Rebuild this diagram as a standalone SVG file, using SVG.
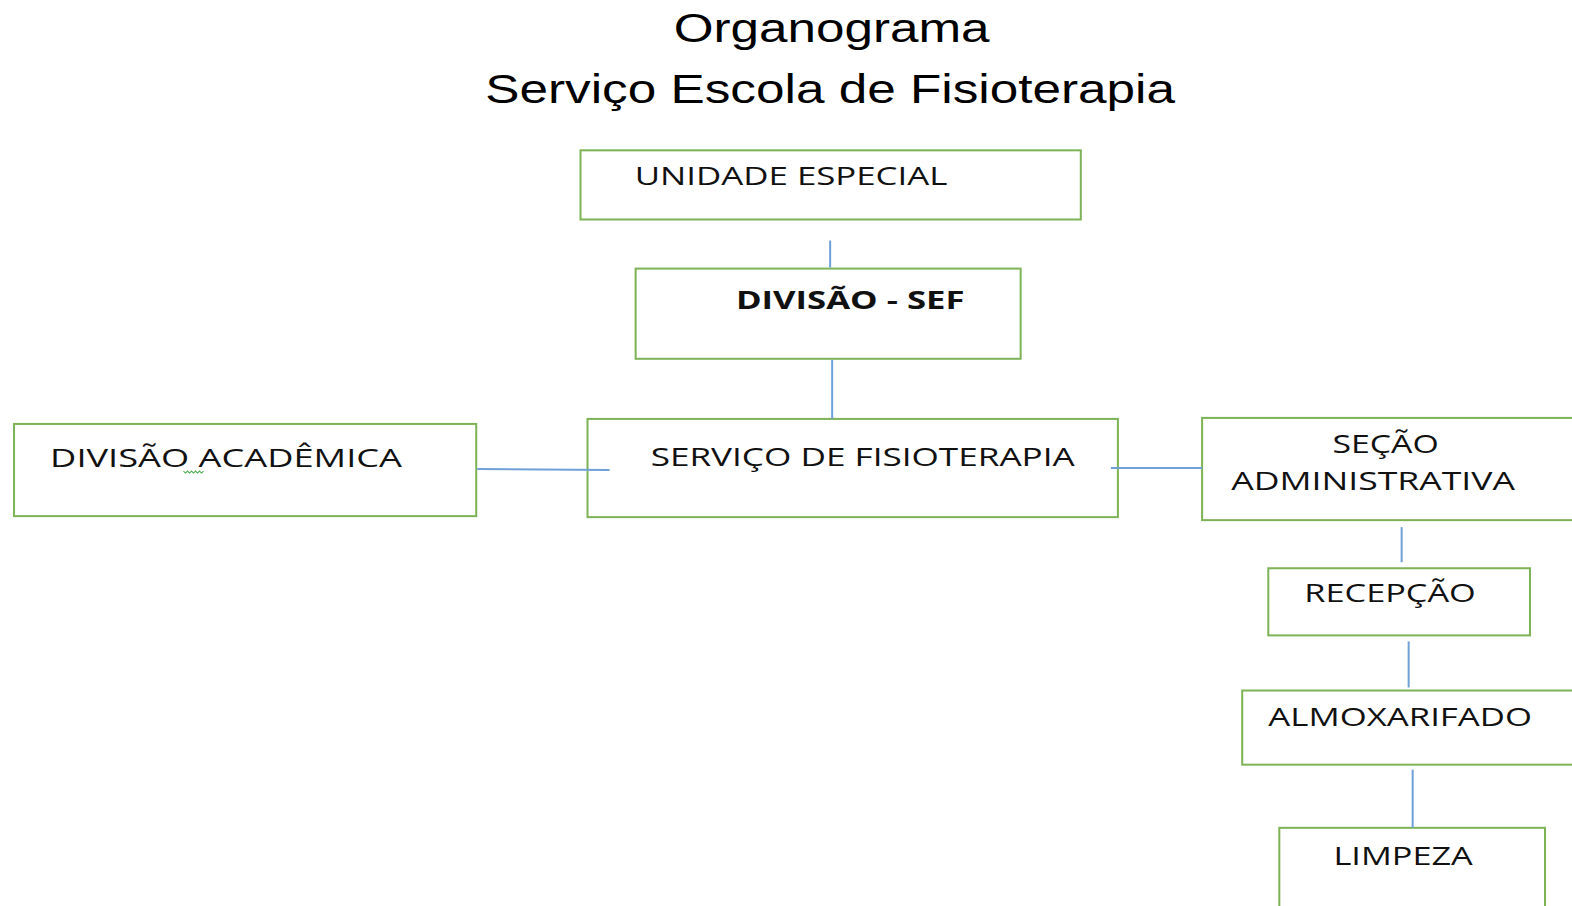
<svg xmlns="http://www.w3.org/2000/svg" width="1572" height="906" viewBox="0 0 1572 906">
<style>
.box{fill:#fff;stroke:#7DB356;stroke-width:2}
.lbl{font-family:"Open Sans","Liberation Sans",sans-serif;font-size:25px;fill:#111}
.b{font-weight:bold}
.title{font-family:"Liberation Sans",Arial,sans-serif;font-size:40px;fill:#000}
.con line{stroke:#6FA0D8;stroke-width:2}
</style>
<rect width="1572" height="906" fill="#fff"/>
<g transform="scale(1.0026 1.0022)">
<g id="titulo">
<text class="title" x="672" y="42" textLength="315" lengthAdjust="spacingAndGlyphs">Organograma</text>
<text class="title" x="484" y="103" textLength="688" lengthAdjust="spacingAndGlyphs">Serviço Escola de Fisioterapia</text>
</g>
<g id="unidade-especial">
<rect class="box" x="579" y="150" width="499" height="69"/>
<text class="lbl" x="633" y="185" textLength="312" lengthAdjust="spacingAndGlyphs">UNIDADE ESPECIAL</text>
</g>
<g id="divisao-sef">
<rect class="box" x="634" y="268" width="384" height="90"/>
<text class="lbl b" x="734" y="308" textLength="228" lengthAdjust="spacingAndGlyphs">DIVISÃO - SEF</text>
</g>
<g id="divisao-academica">
<rect class="box" x="14" y="423" width="461" height="92"/>
<text class="lbl" x="50" y="466" textLength="351" lengthAdjust="spacingAndGlyphs">DIVISÃO  ACADÊMICA</text>
<path d="M183 470 l2 2 l2 -2 l2 2 l2 -2 l2 2 l2 -2 l2 2 l2 -2 l2 2 l2 -2" fill="none" stroke="#4CAF50" stroke-width="1"/>
</g>
<g id="servico-fisioterapia">
<rect class="box" x="586" y="418" width="529" height="98"/>
<text class="lbl" x="649" y="465" textLength="423" lengthAdjust="spacingAndGlyphs">SERVIÇO DE FISIOTERAPIA</text>
</g>
<g id="secao-administrativa">
<rect class="box" x="1199" y="417" width="380" height="102"/>
<text class="lbl" x="1329" y="452" textLength="106" lengthAdjust="spacingAndGlyphs">SEÇÃO</text>
<text class="lbl" x="1228" y="489" textLength="283" lengthAdjust="spacingAndGlyphs">ADMINISTRATIVA</text>
</g>
<g id="recepcao">
<rect class="box" x="1265" y="567" width="261" height="67"/>
<text class="lbl" x="1301" y="601" textLength="171" lengthAdjust="spacingAndGlyphs">RECEPÇÃO</text>
</g>
<g id="almoxarifado">
<rect class="box" x="1239" y="689" width="340" height="74"/>
<text class="lbl" x="1265" y="724" textLength="263" lengthAdjust="spacingAndGlyphs">ALMOXARIFADO</text>
</g>
<g id="limpeza">
<rect class="box" x="1276" y="826" width="265" height="100"/>
<text class="lbl" x="1330" y="863" textLength="139" lengthAdjust="spacingAndGlyphs">LIMPEZA</text>
</g>
<g class="con" id="connectors">
<line x1="828" y1="240" x2="828" y2="267"/>
<line x1="830" y1="359" x2="830" y2="418"/>
<line x1="476" y1="468" x2="608" y2="469"/>
<line x1="1108" y1="467" x2="1199" y2="467"/>
<line x1="1398" y1="526" x2="1398" y2="561"/>
<line x1="1405" y1="640" x2="1405" y2="686"/>
<line x1="1409" y1="768" x2="1409" y2="826"/>
</g>
</g>
</svg>
